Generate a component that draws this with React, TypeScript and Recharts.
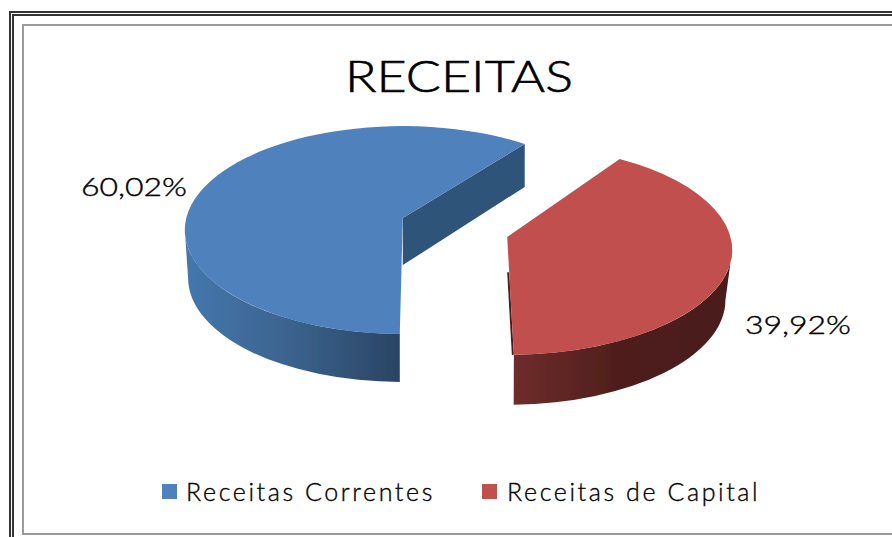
import { Legend, Pie, PieChart, Cell } from "recharts";

const categories = ["Receitas Correntes", "Receitas de Capital"];
const shares = [60.02, 39.92];
const colors = ["#4f81bd", "#c0504d"];
const title = "RECEITAS";

const data = categories.map((name, i) => ({ name, value: shares[i] }));

const FONT = "Lato, 'Open Sans', sans-serif";
const TILT = 0.64;
const EXPLODE = 54;

// per-slice tweaks, the source picture has perspective so the rims are not the same ellipse
const geom = [
  { rx: 218, ry: 104, shiftY: -2, lift: 12, depth: 48, wall: 0.985, startFix: -1, endFix: -4, wallFill: "url(#blueWall)", cutFill: "#2f5579" },
  { rx: 225, ry: 105, shiftY: 0, lift: 13, depth: 50, wall: 0.97, startFix: -1.5, endFix: 3, wallFill: "url(#redWall)", cutFill: "#4f1f1d" },
];
const labelOffsets = [
  { x: -321, y: -54 },
  { x: 343, y: 84 },
];

function SliceShape(props: any) {
  const { cx, cy, midAngle, startAngle, endAngle, fill, index } = props;
  const g = geom[index] ?? geom[0];
  const mid = (midAngle * Math.PI) / 180;
  const ox = cx + EXPLODE * Math.cos(mid);
  const oy = cy - EXPLODE * Math.sin(mid) * TILT + g.shiftY;
  const start = startAngle + g.startFix;
  const end = endAngle + g.endFix;
  const pt = (a: number, down = 0, scale = 1) => {
    const r = (a * Math.PI) / 180;
    return [ox + g.rx * scale * Math.cos(r), oy + down - g.ry * Math.sin(r)];
  };
  const apex = [ox, oy - g.lift];
  const [sx, sy] = pt(start);
  const [ex, ey] = pt(end);
  const large = end - start > 180 ? 1 : 0;

  // outer wall is only seen on the front half of the rim
  const w1 = Math.max(start, 180);
  const w2 = Math.min(end, 360);
  const [ax, ay] = pt(w1);
  const [bx, by] = pt(w2);
  const [cx2, cy2] = pt(w2, g.depth, g.wall);
  const [dx2, dy2] = pt(w1, g.depth, g.wall);
  const wallPath =
    `M${ax},${ay} A${g.rx},${g.ry} 0 0 0 ${bx},${by} L${cx2},${cy2} ` +
    `A${g.rx * g.wall},${g.ry} 0 0 1 ${dx2},${dy2} Z`;
  const edgeX = apex[0] + (sx - apex[0]) * 0.3;
  const edgeY = apex[1] + (sy - apex[1]) * 0.3;

  return (
    <g filter="url(#soft)">
      {start < 180 && (
        <path
          d={`M${apex[0]},${apex[1]} L${sx},${sy} L${sx},${sy + 43} L${apex[0]},${apex[1] + 47} Z`}
          fill={g.cutFill}
        />
      )}
      {start >= 180 && (
        <path d={`M${edgeX - 1},${edgeY} L${sx - 1},${sy}`} stroke={g.cutFill} strokeWidth={2} fill="none" />
      )}
      <path d={wallPath} fill={g.wallFill} />
      <path d={`M${apex[0]},${apex[1]} L${sx},${sy} A${g.rx},${g.ry} 0 ${large} 0 ${ex},${ey} Z`} fill={fill} />
    </g>
  );
}

function renderLabel(props: any) {
  const { cx, cy, value, index } = props;
  const off = labelOffsets[index];
  return (
    <text
      x={cx + off.x}
      y={cy + off.y + 9}
      textAnchor="middle"
      fontFamily={FONT}
      fontSize={26}
      fontWeight={300}
      fill="#000"
      stroke="#000"
      strokeWidth={0.4}
      textLength={106}
      lengthAdjust="spacingAndGlyphs"
    >
      {String(value).replace(".", ",")}%
    </text>
  );
}

function renderLegend(props: any) {
  const items = props.payload ?? [];
  const spots = [
    { box: 162, text: 186, gap: 2.6 },
    { box: 482, text: 507, gap: 2.6 },
  ];
  return (
    <div style={{ position: "relative", width: 892, height: 40 }}>
      {items.map((item: any, i: number) => (
        <div key={item.value}>
          <div
            style={{ position: "absolute", left: spots[i].box, top: 4, width: 15, height: 15, background: item.color }}
          />
          <span
            style={{
              position: "absolute",
              left: spots[i].text,
              top: -5,
              fontFamily: FONT,
              fontSize: 25,
              fontWeight: 300,
              lineHeight: "32px",
              letterSpacing: spots[i].gap,
              color: "#000",
              WebkitTextStroke: "0.35px #000",
              whiteSpace: "nowrap",
            }}
          >
            {item.value}
          </span>
        </div>
      ))}
    </div>
  );
}

export default function App() {
  return (
    <div style={{ position: "absolute", left: 0, top: 0, width: 892, height: 537, overflow: "hidden", background: "#fff" }}>
      <div style={{ position: "absolute", left: 9, top: 11, width: 1000, height: 700, border: "5px double #333" }} />
      <div style={{ position: "absolute", left: 22, top: 24, width: 1000, height: 507, border: "2px solid #9a9a9a" }} />
      <div style={{ position: "absolute", left: 0, top: 0 }}>
        <PieChart width={892} height={537} margin={{ top: 0, right: 0, bottom: 0, left: 0 }}>
          <defs>
            <filter id="soft" x="-5%" y="-5%" width="110%" height="110%">
              <feGaussianBlur stdDeviation="0.6" />
            </filter>
            <linearGradient id="blueWall" x1="0" y1="0" x2="1" y2="0">
              <stop offset="0%" stopColor="#4477ae" />
              <stop offset="45%" stopColor="#3c6590" />
              <stop offset="100%" stopColor="#2a4464" />
            </linearGradient>
            <linearGradient id="redWall" x1="0" y1="0" x2="1" y2="0">
              <stop offset="0%" stopColor="#6e2d2b" />
              <stop offset="45%" stopColor="#501f1d" />
              <stop offset="100%" stopColor="#4a1c1a" />
            </linearGradient>
          </defs>
          <text
            x={459}
            y={92}
            textAnchor="middle"
            fontFamily={FONT}
            fontSize={44}
            fontWeight={300}
            fill="#000"
            stroke="#000"
            strokeWidth={0.6}
            textLength={228}
            lengthAdjust="spacingAndGlyphs"
          >
            {title}
          </text>
          <Pie
            data={data}
            dataKey="value"
            nameKey="name"
            cx={455}
            cy={241}
            outerRadius={220}
            startAngle={57}
            endAngle={417}
            stroke="none"
            legendType="rect"
            shape={SliceShape}
            label={renderLabel}
            labelLine={false}
            isAnimationActive={false}
          >
            {data.map((d, i) => (
              <Cell key={d.name} fill={colors[i]} />
            ))}
          </Pie>
          <Legend content={renderLegend} wrapperStyle={{ left: 0, top: 480, width: 892, height: 40 }} />
        </PieChart>
      </div>
    </div>
  );
}
